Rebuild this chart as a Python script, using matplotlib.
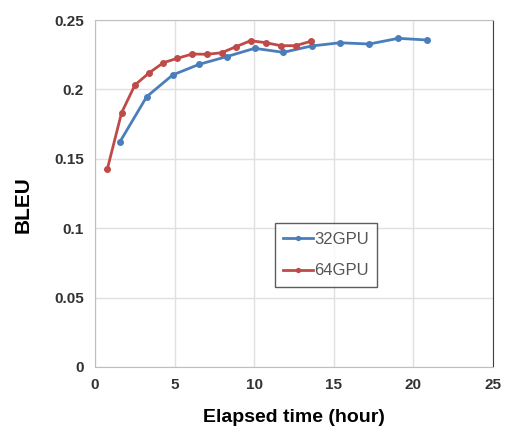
import matplotlib.pyplot as plt

plt.rcParams['font.family'] = ['Liberation Sans', 'DejaVu Sans']

# elapsed time (hour) and BLEU
t32 = [1.57, 3.25, 4.88, 6.55, 8.27, 10.03, 11.83, 13.61, 15.39, 17.23, 19.05, 20.84]
bleu32 = [0.1623, 0.1948, 0.2104, 0.2181, 0.2236, 0.2296, 0.2267, 0.2313, 0.2336, 0.2327, 0.2368, 0.2356]

t64 = [0.77, 1.67, 2.51, 3.41, 4.29, 5.17, 6.11, 7.02, 7.96, 8.86, 9.78, 10.74, 11.68, 12.6, 13.57]
bleu64 = [0.1424, 0.1832, 0.2032, 0.2120, 0.2192, 0.2224, 0.2255, 0.2253, 0.2264, 0.2308, 0.2351, 0.2336, 0.2315, 0.2315, 0.2347]

xticks = [0, 5, 10, 15, 20, 25]
yticks = [0, 0.05, 0.1, 0.15, 0.2, 0.25]
ylabels = ['0', '0.05', '0.1', '0.15', '0.2', '0.25']

fig = plt.figure(figsize=(5.05, 4.37), dpi=100)
ax = fig.add_axes([95 / 505, 1 - 367 / 437, 398 / 505, 347 / 437])

ax.plot(t32, bleu32, color='#4a7ebb', lw=2, marker='o', ms=4, label='32GPU')
ax.plot(t64, bleu64, color='#be4b48', lw=2, marker='o', ms=4, label='64GPU')

ax.set_xlim(0, 25)
ax.set_ylim(0, 0.25)
ax.set_xticks(xticks)
ax.set_yticks(yticks)
ax.set_yticklabels(ylabels)
ax.grid(True, color='#e0e0e0', lw=1)
ax.set_axisbelow(True)
ax.tick_params(length=0, labelsize=11, labelcolor='#333333', pad=8)
for lab in ax.get_xticklabels() + ax.get_yticklabels():
    lab.set_fontweight('bold')

for s in ['left', 'bottom', 'top']:
    ax.spines[s].set_color('#bfbfbf')
ax.spines['right'].set_color('#404040')

ax.set_xlabel('Elapsed time (hour)', fontsize=14, fontweight='bold', labelpad=12)
ax.set_ylabel('BLEU', fontsize=15, fontweight='bold')
ax.yaxis.set_label_coords(-0.157, 0.467)

leg = ax.legend(loc='upper left', bbox_to_anchor=(0.452, 0.414), borderaxespad=0,
                fontsize=12, frameon=True, fancybox=False, borderpad=0.5,
                labelspacing=1.0, handlelength=1.8, handletextpad=0.05,
                markerscale=0.7)
leg.get_frame().set_edgecolor('#333333')
leg.get_frame().set_linewidth(1)
for txt in leg.get_texts():
    txt.set_color('#555555')

plt.savefig('out.png', dpi=100)
